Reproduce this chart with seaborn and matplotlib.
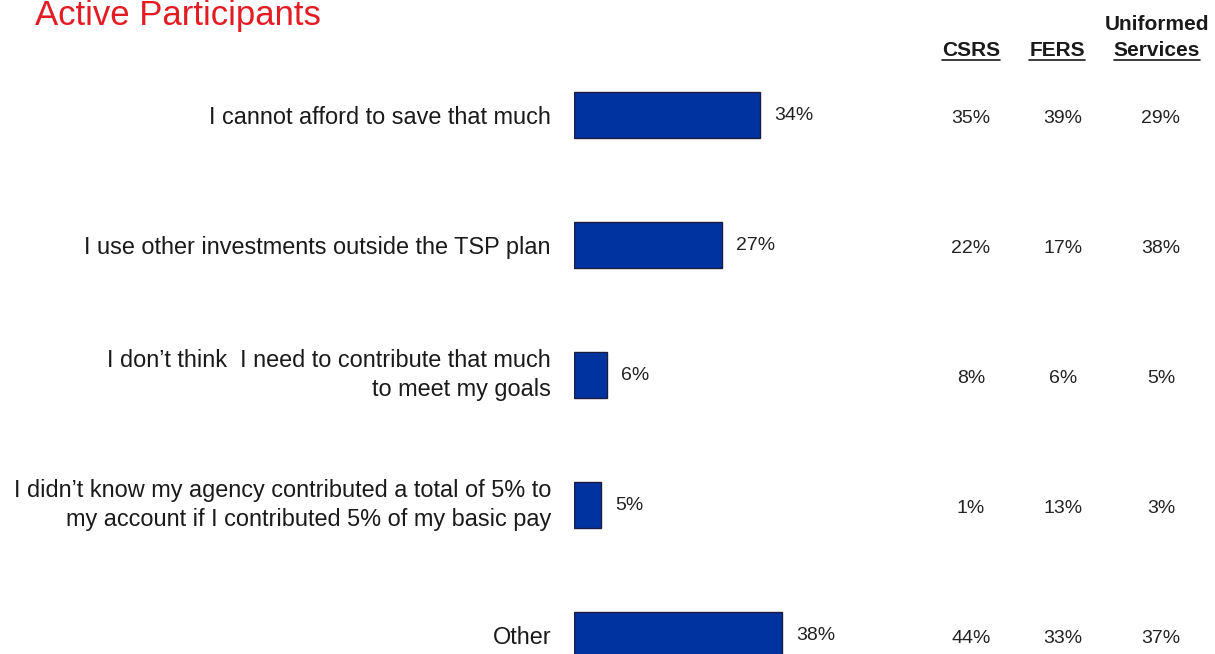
import matplotlib
matplotlib.use("Agg")
import matplotlib.pyplot as plt
import matplotlib.transforms as mtransforms
from matplotlib.lines import Line2D
import seaborn as sns
import pandas as pd

# Reasons for not contributing more
reasons = [
    "I cannot afford to save that much",
    "I use other investments outside the TSP plan",
    "I don\u2019t think  I need to contribute that much\nto meet my goals",
    "I didn\u2019t know my agency contributed a total of 5% to\nmy account if I contributed 5% of my basic pay",
    "Other",
]
overall = [34, 27, 6, 5, 38]
csrs = [35, 22, 8, 1, 44]
fers = [39, 17, 6, 13, 33]
uniformed = [29, 38, 5, 3, 37]
column_headers = ["CSRS", "FERS", "Uniformed\nServices"]

sns.set_theme(style="white")
plt.rcParams["font.family"] = ["Liberation Sans", "DejaVu Sans"]

W, H = 1215, 654
fig = plt.figure(figsize=(W / 100, H / 100), dpi=100)
fig.patch.set_facecolor("white")

ax = fig.add_axes([574 / W, 0, 547 / W, 1])
df = pd.DataFrame({"reason": reasons, "pct": overall})
sns.barplot(data=df, x="pct", y="reason", orient="h", color="#0033A0",
            saturation=1, width=0.355, edgecolor="#1c1c40", linewidth=1,
            ax=ax)
ax.set_xlim(0, 100)
ax.set_ylim(4.146, -0.885)
ax.set_xlabel("")
ax.set_ylabel("")
ax.set_xticks([])
ax.set_yticklabels([])
ax.tick_params(axis="y", length=0)
for s in ax.spines.values():
    s.set_visible(False)

# category labels, right-aligned to the left of the bars
lab_trans = mtransforms.blended_transform_factory(ax.transAxes, ax.transData)
for i, r in enumerate(reasons):
    two_line = "\n" in r
    ax.text(-23 / 547, i + (0.0 if two_line else 0.02), r,
            transform=lab_trans, ha="right", va="center",
            multialignment="right", linespacing=1.3, fontsize=16.9,
            color="#1a1a1a")

ax.bar_label(ax.containers[0], labels=[f"{v}%" for v in overall],
             padding=10, fontsize=14, color="#222222")

# Breakdown table on the right
trans = mtransforms.blended_transform_factory(fig.transFigure, ax.transData)
col_x = [971 / W, 1063 / W, 1161 / W]
for cx, vals in zip(col_x, [csrs, fers, uniformed]):
    for i, v in enumerate(vals):
        ax.text(cx, i + 0.025, f"{v}%", transform=trans, ha="center",
                va="center", fontsize=14, color="#222222")

head_x = [971 / W, 1057 / W, 1157 / W]
head_texts = []
for hx, h in zip(head_x, column_headers):
    t = fig.text(hx, 1 - 56 / H, h, ha="center", va="baseline",
                 fontsize=15, fontweight="bold", color="#1a1a1a",
                 linespacing=1.5)
    head_texts.append(t)

fig.text(35 / W, 1 - 25.5 / H, "Active Participants", ha="left",
         va="baseline", fontsize=25, color="#E31B23")

# underline the last line of each header
fig.canvas.draw()
renderer = fig.canvas.get_renderer()
for t, h in zip(head_texts, column_headers):
    last = h.split("\n")[-1]
    probe = fig.text(0, 0, last, fontsize=15, fontweight="bold")
    w = probe.get_window_extent(renderer).width
    probe.remove()
    cx = t.get_position()[0] * W
    y = 1 - 59.5 / H
    fig.add_artist(Line2D([(cx - w / 2) / W, (cx + w / 2) / W], [y, y],
                          transform=fig.transFigure, color="#1a1a1a",
                          linewidth=1.2))

fig.savefig("out.png", dpi=100, facecolor="white")
